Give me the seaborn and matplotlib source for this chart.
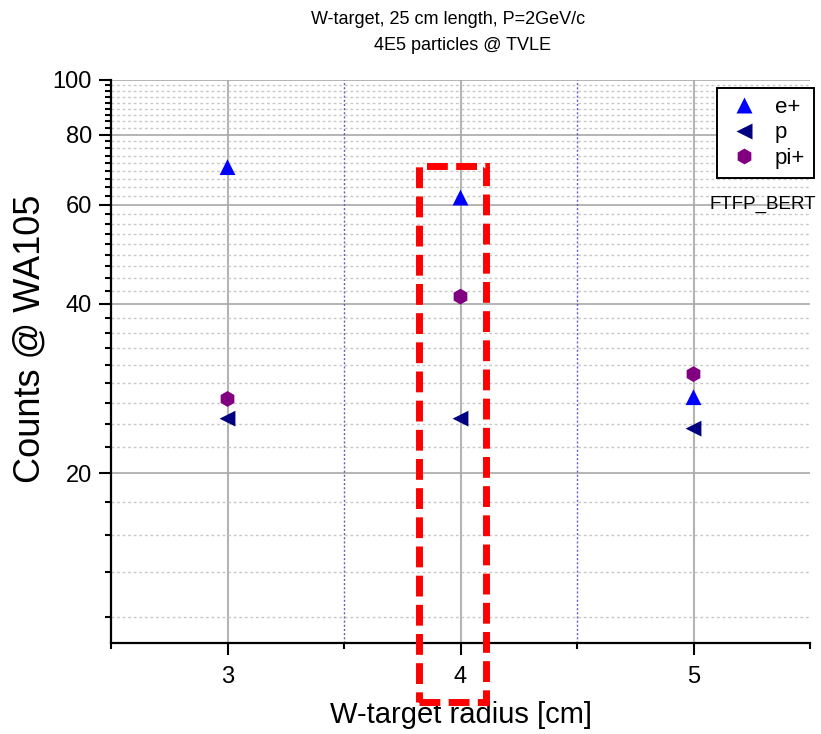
import numpy as np
import pandas as pd
import matplotlib
matplotlib.use("Agg")
import matplotlib.pyplot as plt
import matplotlib.patches as mpatches
from matplotlib.ticker import FixedLocator, NullFormatter, FixedFormatter
import seaborn as sns

# ---- data ----
radius = [3, 4, 5]
e_plus = [70.0, 61.8, 27.3]
p_vals = [25.0, 25.0, 24.0]
pi_plus = [27.1, 41.2, 30.0]
series_names = ["e+", "p", "pi+"]
y_major = [20, 40, 60, 80, 100]
x_major = [3, 4, 5]
x_minor = [2.5, 3.5, 4.5, 5.5]

df = pd.DataFrame({
    "radius": radius * 3,
    "counts": e_plus + p_vals + pi_plus,
    "particle": ["e+"] * 3 + ["p"] * 3 + ["pi+"] * 3,
})

sns.set_theme(style="white")
plt.rcParams["font.family"] = ["Liberation Sans", "DejaVu Sans"]
plt.rcParams["text.color"] = "black"
plt.rcParams["axes.labelcolor"] = "black"
plt.rcParams["xtick.color"] = "black"
plt.rcParams["ytick.color"] = "black"

fig = plt.figure(figsize=(8.21, 7.34), dpi=100)
ax = fig.add_axes([111 / 821, 1 - 642.5 / 734, 699 / 821, 562.5 / 734])

palette = {"e+": "#0000ff", "p": "#000080", "pi+": "#800080"}
markers = {"e+": "^", "p": "<", "pi+": "h"}
sns.scatterplot(data=df, x="radius", y="counts", hue="particle", style="particle",
                palette=palette, markers=markers, s=130, edgecolor="none",
                ax=ax, zorder=5, legend=True)

ax.set_yscale("log")
ax.set_xlim(2.5, 5.5)
ax.set_ylim(10, 100)

# minor y ticks: 8 linear subdivisions per major interval
y_minor = []
for lo in [0, 20, 40, 60, 80]:
    for k in range(1, 9):
        v = lo + 20 * k / 9
        if 10 < v < 100:
            y_minor.append(v)

ax.yaxis.set_major_locator(FixedLocator(y_major))
ax.yaxis.set_major_formatter(FixedFormatter([str(v) for v in y_major]))
ax.yaxis.set_minor_locator(FixedLocator(y_minor))
ax.yaxis.set_minor_formatter(NullFormatter())
ax.xaxis.set_major_locator(FixedLocator(x_major))
ax.xaxis.set_major_formatter(FixedFormatter([str(v) for v in x_major]))
ax.xaxis.set_minor_locator(FixedLocator(x_minor))

ax.tick_params(which="major", direction="out", length=8.6, width=1.5, labelsize=17,
               colors="black", pad=5, left=True, bottom=True)
ax.tick_params(which="minor", direction="out", length=4.3, width=1.5,
               left=True, bottom=True)
ax.tick_params(axis="x", which="major", pad=8)

for s in ["top", "right"]:
    ax.spines[s].set_visible(False)
for s in ["left", "bottom"]:
    ax.spines[s].set_color("black")
    ax.spines[s].set_linewidth(1.6)

# grids
ax.grid(False)
ax.yaxis.grid(True, which="major", color="#a8a8a8", linewidth=1.2, linestyle="-")
ax.yaxis.grid(True, which="minor", color="#c8c8c8", linewidth=1.0, linestyle=(0, (2, 2)))
ax.xaxis.grid(True, which="major", color="#b4b4b4", linewidth=1.5, linestyle="-")
for xv in [3.5, 4.5]:
    ax.axvline(xv, color="#6060c0", linewidth=1.0, linestyle=(0, (1.5, 1.5)), zorder=1)
ax.set_axisbelow(True)

ax.set_xlabel("W-target radius [cm]", fontsize=21, labelpad=10)
ax.set_ylabel("Counts @ WA105", fontsize=26)
ax.yaxis.set_label_coords(-0.09, 0.54)

# titles
fig.text(448 / 821, 1 - 19 / 734, "W-target, 25 cm length, P=2GeV/c", ha="center",
         va="center", fontsize=13)
fig.text(462 / 821, 1 - 45 / 734, "4E5 particles @ TVLE", ha="center", va="center",
         fontsize=13)

# annotation
ax.text(5.07, 60, "FTFP_BERT", fontsize=13.5, ha="left", va="center", clip_on=False)

# highlight rectangle
rect = mpatches.Rectangle((3.823, 7.84), 0.286, 70.3 - 7.84, fill=False,
                          edgecolor="#ff0000", linewidth=5, linestyle=(0, (3.0, 1.2)),
                          clip_on=False, zorder=6)
ax.add_patch(rect)

# legend
handles, labels = ax.get_legend_handles_labels()
leg = ax.legend(handles, labels, loc="upper right",
                bbox_to_anchor=(814 / 821, 1 - 88 / 734),
                bbox_transform=fig.transFigure, fontsize=16, frameon=True,
                fancybox=False, framealpha=1, edgecolor="black", borderaxespad=0,
                handletextpad=0.6, handlelength=1.6, labelspacing=0.2, borderpad=0.4,
                markerscale=1.0, title=None)
leg.get_frame().set_linewidth(1.4)

fig.savefig("out.png", dpi=100)
